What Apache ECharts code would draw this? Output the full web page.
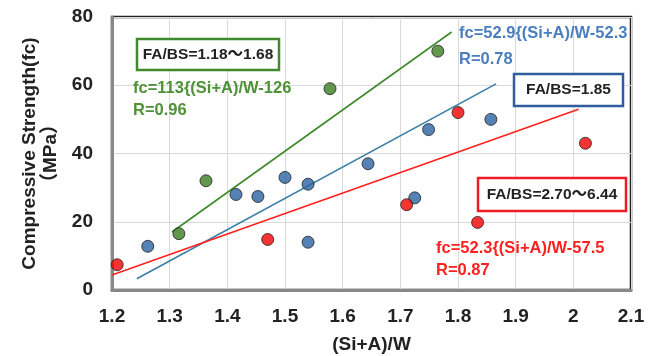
<!DOCTYPE html>
<html>
<head>
<meta charset="utf-8">
<script src="https://cdn.jsdelivr.net/npm/echarts@6/dist/echarts.min.js"></script>
<style>html,body{margin:0;padding:0;background:#fff;}#c{width:659px;height:356px;}</style>
</head>
<body>
<div id="c"></div>
<script>
// Data: [(Si+A)/W, fc]
const greenPts = [[1.316, 16.5], [1.363, 32], [1.578, 59], [1.765, 70]];
const bluePts = [[1.262, 12.8], [1.415, 28], [1.453, 27.4], [1.500, 33], [1.540, 31], [1.540, 14], [1.644, 37], [1.725, 27], [1.749, 47], [1.857, 50]];
const redPts = [[1.209, 7.4], [1.470, 14.8], [1.711, 25], [1.800, 52], [1.834, 19.8], [2.021, 43]];
const greenFit = [[1.304, 17], [1.789, 75.6]];
const blueFit = [[1.243, 3.3], [1.866, 60.4]];
const redFit = [[1.200, 4.4], [2.009, 53]];
const xTicks = [1.2, 1.3, 1.4, 1.5, 1.6, 1.7, 1.8, 1.9, 2.0, 2.1];
const yTicks = [0, 20, 40, 60, 80];

const FONT = '"Liberation Sans", Arial, "Noto Sans CJK JP", sans-serif';
const chart = echarts.init(document.getElementById('c'), null, {renderer: 'canvas'});

function box(x, y, w, h, color) {
  return {type: 'rect', shape: {x: x, y: y, width: w, height: h}, style: {fill: '#fff', stroke: color, lineWidth: 2.5}, z: 100};
}
function txt(x, y, text, color, size, align) {
  return {type: 'text', x: x, y: y, style: {text: text, fill: color, font: 'bold ' + size + 'px ' + FONT, textAlign: align || 'left', textVerticalAlign: 'middle'}, z: 101};
}

chart.setOption({
  animation: false,
  backgroundColor: '#fff',
  grid: {left: 112, right: 28, top: 17, bottom: 66, containLabel: false, outerBoundsMode: 'none', show: true, borderColor: '#222', borderWidth: 2.5, backgroundColor: 'transparent'},
  xAxis: {
    type: 'value', min: 1.2, max: 2.1, interval: 0.1,
    name: '(Si+A)/W', nameLocation: 'middle', nameGap: 45,
    nameTextStyle: {fontFamily: FONT, fontWeight: 'bold', fontSize: 19, color: '#222'},
    axisLine: {show: true, lineStyle: {color: '#888', width: 3}},
    axisTick: {show: false},
    axisLabel: {fontFamily: FONT, fontWeight: 'bold', fontSize: 19, color: '#222', margin: 17,
      formatter: function (v) { const t = xTicks.find(function (k) { return Math.abs(k - v) < 1e-6; }); return t === undefined ? '' : String(Math.round(t * 10) / 10); }},
    splitLine: {show: true, lineStyle: {color: '#d9d9d9', width: 1}}
  },
  yAxis: {
    type: 'value', min: 0, max: 80, interval: 20,
    name: 'Compressive Strength(fc)\n（MPa）', nameLocation: 'middle', nameGap: 51, nameRotate: 90,
    nameTextStyle: {fontFamily: FONT, fontWeight: 'bold', fontSize: 19, color: '#222', lineHeight: 21},
    axisLine: {show: true, lineStyle: {color: '#888', width: 3}},
    axisTick: {show: false},
    axisLabel: {fontFamily: FONT, fontWeight: 'bold', fontSize: 19, color: '#222', margin: 19,
      formatter: function (v) { return yTicks.indexOf(v) >= 0 ? String(v) : ''; }},
    splitLine: {show: true, lineStyle: {color: '#d9d9d9', width: 1}}
  },
  series: [
    {type: 'line', data: greenFit, symbol: 'none', lineStyle: {color: '#3f8a2c', width: 1.6}, z: 2},
    {type: 'line', data: blueFit, symbol: 'none', lineStyle: {color: '#3a7fa6', width: 1.6}, z: 2},
    {type: 'line', data: redFit, symbol: 'none', lineStyle: {color: '#ff2020', width: 1.6}, z: 2},
    {type: 'scatter', data: greenPts, symbolSize: 12, itemStyle: {color: '#3b7d22', borderColor: '#222', borderWidth: 1}, z: 3},
    {type: 'scatter', data: bluePts, symbolSize: 12, itemStyle: {color: '#2b63a3', borderColor: '#222', borderWidth: 1}, z: 3},
    {type: 'scatter', data: redPts, symbolSize: 12, itemStyle: {color: '#f20000', borderColor: '#222', borderWidth: 1}, z: 3}
  ],
  graphic: [
    box(137, 39, 142, 31, '#3f8a2c'),
    txt(208, 54.5, 'FA/BS=1.18～1.68', '#222', 15.5, 'center'),
    txt(133, 88, 'fc=113{(Si+A)/W-126', '#4e9136', 16.5),
    txt(133, 110, 'R=0.96', '#4e9136', 16.5),
    txt(459, 33, 'fc=52.9{(Si+A)/W-52.3', '#4a7ebf', 16.5),
    txt(459, 59, 'R=0.78', '#4a7ebf', 16.5),
    box(514, 74, 109, 32, '#2e5e9e'),
    txt(568.5, 90, 'FA/BS=1.85', '#222', 15.5, 'center'),
    box(478, 178, 148, 33, '#ee1c25'),
    txt(552, 195, 'FA/BS=2.70～6.44', '#222', 15.5, 'center'),
    txt(436, 248, 'fc=52.3{(Si+A)/W-57.5', '#ff2020', 16.5),
    txt(436, 270, 'R=0.87', '#ff2020', 16.5)
  ]
});
</script>
</body>
</html>
